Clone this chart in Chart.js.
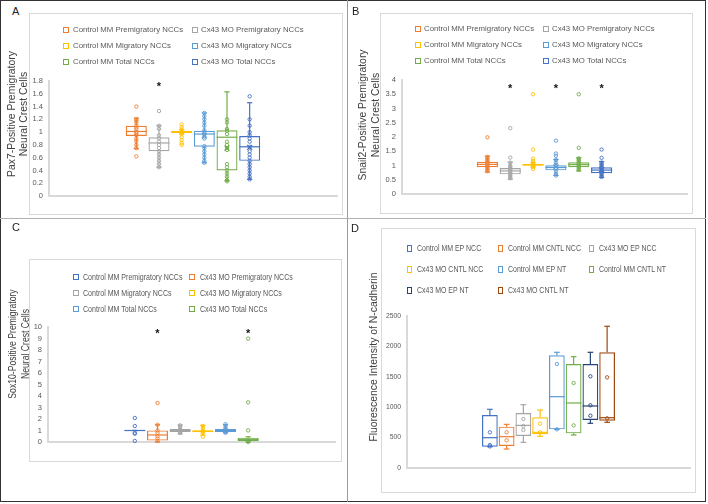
<!DOCTYPE html>
<html>
<head>
<meta charset="utf-8">
<script src="https://cdn.jsdelivr.net/npm/chart.js@4.4.0/dist/chart.umd.min.js"></script>
<style>
  body { margin: 0; background: #fff; }
  #fig { position: relative; width: 708px; height: 504px; overflow: hidden; font-family: 'Liberation Sans', Arial, sans-serif; }
  #fig div, #fig canvas { position: absolute; }
  .frame { left: 0; top: 0; width: 706px; height: 502px; border: 1px solid #333; box-sizing: border-box; }
  .vline { left: 347px; top: 0; width: 1px; height: 502px; background: #9a9a9a; }
  .hline { left: 0; top: 218px; width: 706px; height: 1px; background: #b0b0b0; }
  .letter { font-size: 11px; line-height: 11px; color: #222; }
  .chartbox { border: 1px solid #d9d9d9; box-sizing: border-box; }
  .ytitle { color: #404040; white-space: nowrap; text-align: center; }
  .lg-box { box-sizing: border-box; border: 1px solid; }
  .lg-text { color: #595959; white-space: nowrap; transform-origin: left center; }
</style>
</head>
<body>
<div id="fig">
  <div class="frame"></div>
  <div class="vline"></div>
  <div class="hline"></div>
</div>
<script>
// ---- A: Pax7 ----
const aLabels = ['Control MM Premigratory NCCs', 'Cx43 MO Premigratory NCCs', 'Control MM Migratory NCCs',
                 'Cx43 MO Migratory NCCs', 'Control MM Total NCCs', 'Cx43 MO Total NCCs'];
const aQ1 = [0.94, 0.70, 0.985, 0.77, 0.40, 0.55];
const aMedian = [1.01, 0.83, 1.00, 0.97, 0.92, 0.77];
const aQ3 = [1.10, 0.92, 1.02, 1.02, 1.03, 0.94];
const aLow = [0.74, 0.45, 0.97, 0.52, 0.24, 0.26];
const aHigh = [1.22, 1.10, 1.04, 1.30, 1.63, 1.46];
const aMean = [null, null, null, 0.94, 0.75, 0.76];
const aPoints = [
    [1.40, 1.20, 1.18, 1.15, 1.10, 1.07, 1.04, 1.00, 0.98, 0.95, 0.90, 0.86, 0.80, 0.75, 0.62],
    [1.33, 1.10, 1.05, 0.95, 0.90, 0.85, 0.80, 0.75, 0.70, 0.65, 0.60, 0.55, 0.50, 0.45],
    [1.12, 1.08, 1.04, 1.00, 0.97, 0.92, 0.88, 0.83, 0.80],
    [1.30, 1.25, 1.20, 1.15, 1.10, 1.03, 1.00, 0.97, 0.93, 0.90, 0.78, 0.75, 0.70, 0.65, 0.60, 0.55, 0.52],
    [1.20, 1.15, 1.05, 1.02, 0.97, 0.85, 0.80, 0.75, 0.72, 0.50, 0.45, 0.40, 0.35, 0.30, 0.25, 0.23],
    [1.56, 1.20, 1.10, 1.00, 0.95, 0.90, 0.85, 0.77, 0.70, 0.65, 0.60, 0.55, 0.50, 0.45, 0.40, 0.35, 0.30, 0.26]
];
const aStars = [null, 1.75, null, null, null, null];
const aTicks = [0, 0.2, 0.4, 0.6, 0.8, 1, 1.2, 1.4, 1.6, 1.8];

// ---- B: Snail2 ----
const bLabels = aLabels;
const bQ1 = [0.94, 0.69, 0.99, 0.83, 0.94, 0.73];
const bMedian = [1.04, 0.81, 1.03, 0.93, 1.03, 0.84];
const bQ3 = [1.13, 0.91, 1.05, 1.01, 1.11, 0.94];
const bLow = [0.77, 0.52, 0.95, 0.65, 0.81, 0.58];
const bHigh = [1.33, 1.12, 1.10, 1.21, 1.27, 1.14];
const bMean = [null, null, null, 0.95, null, 0.85];
const bPoints = [
    [1.99, 1.30, 1.25, 1.20, 1.15, 1.10, 1.05, 1.00, 0.95, 0.90, 0.85, 0.80],
    [2.31, 1.28, 1.10, 1.00, 0.95, 0.90, 0.85, 0.80, 0.75, 0.70, 0.65, 0.60, 0.55],
    [3.50, 1.56, 1.24, 1.16, 1.10, 1.05, 1.00, 0.95, 0.88],
    [1.87, 1.42, 1.34, 1.20, 1.10, 1.00, 0.90, 0.80, 0.70, 0.65],
    [3.50, 1.62, 1.25, 1.20, 1.15, 1.10, 1.05, 1.00, 0.95, 0.90, 0.85],
    [1.56, 1.27, 1.10, 1.05, 1.00, 0.95, 0.90, 0.85, 0.80, 0.75, 0.70, 0.65, 0.60]
];
const bStars = [null, 3.8, null, 3.8, null, 3.8];
const bTicks = [0, 0.5, 1, 1.5, 2, 2.5, 3, 3.5, 4];

// ---- C: Sox10 ----
const cLabels = aLabels;
const cQ1 = [1.00, 0.12, 0.87, 0.84, 0.87, 0.09];
const cMedian = [1.00, 0.61, 1.00, 0.95, 1.00, 0.20];
const cQ3 = [1.00, 1.01, 1.13, 1.01, 1.13, 0.38];
const cLow = [1.00, 0.00, 0.70, 0.60, 0.80, 0.00];
const cHigh = [1.00, 1.50, 1.48, 1.45, 1.50, 0.45];
const cMean = [null, null, null, null, null, null];
const cPoints = [
    [2.09, 1.39, 0.80, 0.72, 0.09],
    [3.39, 1.50, 1.00, 0.80, 0.50, 0.30, 0.10],
    [1.45, 1.30, 1.10, 1.00, 0.90, 0.80],
    [1.40, 1.20, 1.00, 0.90, 0.80, 0.46],
    [1.55, 1.40, 1.20, 1.10, 1.00, 0.90, 0.80],
    [8.99, 3.45, 1.01, 0.10, 0.00]
];
const cStars = [null, 9.65, null, null, null, 9.65];
const cTicks = [0, 1, 2, 3, 4, 5, 6, 7, 8, 9, 10];

// ---- D: N-cadherin ----
const dLabels = ['Control MM EP NCC', 'Control MM CNTL NCC', 'Cx43 MO EP NCC', 'Cx43 MO CNTL NCC',
                 'Control MM EP NT', 'Control MM CNTL NT', 'Cx43 MO EP NT', 'Cx43 MO CNTL NT'];
const dQ1 = [351, 362, 526, 554, 636, 570, 789, 778];
const dMedian = [499, 515, 701, 587, 1173, 1069, 1020, 827];
const dQ3 = [871, 680, 904, 833, 1853, 1711, 1711, 1903];
const dLow = [351, 312, 422, 521, 636, 543, 735, 751];
const dHigh = [965, 718, 1041, 954, 1903, 1831, 1903, 2331];
const dMean = [null, null, null, null, null, null, null, null];
const dPoints = [
    [587, 378, 355],
    [587, 455],
    [806, 691, 625],
    [729, 587],
    [1711, 636],
    [1398, 701],
    [1508, 1031, 860],
    [1491, 817]
];
const dStars = [null, null, null, null, null, null, null, null];
const dTicks = [0, 500, 1000, 1500, 2000, 2500];

const colorsAB = ['#ED7D31', '#A5A5A5', '#FFC000', '#5B9BD5', '#70AD47', '#4472C4'];
const colorsC = ['#4472C4', '#ED7D31', '#A5A5A5', '#FFC000', '#5B9BD5', '#70AD47'];
const colorsD = ['#4472C4', '#ED7D31', '#A5A5A5', '#FFC000', '#5B9BD5', '#70AD47', '#264478', '#9E480E'];

const SANS = "'Liberation Sans', Arial, sans-serif";

class BoxFigure {
    constructor() {
        this.fig = document.getElementById('fig');
        this.init();
    }

    init() {
        this.renderPanel({
            letter: { text: 'A', x: 12, y: 6 },
            box: { x: 29, y: 13, w: 314, h: 202 },
            area: { left: 49, top: 81, right: 337, bottom: 196 },
            groupWidth: 136, barPct: 0.925, capRatio: 0.25, tickPad: 6, tickSize: 7.5,
            title: { lines: ['Pax7-Positive Premigratory', 'Neural Crest Cells'], x: 18, y: 114, size: 10.4, lh: 12.3, sx: 1 },
            legend: { sq: [63, 192], tx: [73, 201], rows: [30, 46, 62], size: 7.8, sx: 1, bw: 6, bh: 6 },
            labels: aLabels, colors: colorsAB, ticks: aTicks,
            q1: aQ1, median: aMedian, q3: aQ3, low: aLow, high: aHigh, mean: aMean, points: aPoints, stars: aStars
        });
        this.renderPanel({
            letter: { text: 'B', x: 352, y: 6 },
            box: { x: 380, y: 13, w: 313, h: 201 },
            area: { left: 402, top: 80, right: 687, bottom: 194 },
            groupWidth: 137, barPct: 0.925, capRatio: 0.25, tickPad: 6, tickSize: 7.5,
            title: { lines: ['Snail2-Positive Premigratory', 'Neural Crest Cells'], x: 369, y: 115, size: 10.4, lh: 13, sx: 1 },
            legend: { sq: [415, 543], tx: [424, 552], rows: [29, 45, 61], size: 7.8, sx: 1, bw: 6, bh: 6 },
            labels: bLabels, colors: colorsAB, ticks: bTicks,
            q1: bQ1, median: bMedian, q3: bQ3, low: bLow, high: bHigh, mean: bMean, points: bPoints, stars: bStars
        });
        this.renderPanel({
            letter: { text: 'C', x: 12, y: 222 },
            box: { x: 29, y: 259, w: 313, h: 203 },
            area: { left: 48, top: 327, right: 335, bottom: 442 },
            groupWidth: 136, barPct: 0.925, capRatio: 0.25, tickPad: 6, tickSize: 7.5,
            title: { lines: ['Sox10-Positive Premigratory', 'Neural Crest Cells'], x: 18.5, y: 344, size: 10.4, lh: 12.5, sx: 0.83 },
            legend: { sq: [73, 189], tx: [83, 200], rows: [277, 293, 309], size: 8.6, sx: 0.82, bw: 6, bh: 6 },
            labels: cLabels, colors: colorsC, ticks: cTicks,
            q1: cQ1, median: cMedian, q3: cQ3, low: cLow, high: cHigh, mean: cMean, points: cPoints, stars: cStars
        });
        this.renderPanel({
            letter: { text: 'D', x: 351, y: 223 },
            box: { x: 381, y: 228, w: 315, h: 265 },
            area: { left: 407, top: 316, right: 690, bottom: 468 },
            groupWidth: 134, barPct: 0.94, capRatio: 0.36, tickPad: 6, tickSize: 6.8,
            title: { lines: ['Fluorescence Intensity of N-cadherin'], x: 373.5, y: 357, size: 10.4, lh: 12, sx: 1 },
            legend: { sq: [407, 498, 589], tx: [417, 508, 599], rows: [248, 269, 290], size: 8.5, sx: 0.82, bw: 5, bh: 7 },
            labels: dLabels, colors: colorsD, ticks: dTicks,
            q1: dQ1, median: dMedian, q3: dQ3, low: dLow, high: dHigh, mean: dMean, points: dPoints, stars: dStars
        });
    }

    addDiv(cls, style) {
        const el = document.createElement('div');
        el.className = cls;
        Object.assign(el.style, style);
        this.fig.appendChild(el);
        return el;
    }

    renderLegend(p) {
        const lg = p.legend;
        const ncols = lg.sq.length;
        p.labels.forEach((label, k) => {
            const col = k % ncols, row = Math.floor(k / ncols);
            const cy = lg.rows[row];
            this.addDiv('lg-box', {
                left: lg.sq[col] + 'px', top: (cy - lg.bh / 2) + 'px',
                width: lg.bw + 'px', height: lg.bh + 'px', borderColor: p.colors[k]
            });
            const t = this.addDiv('lg-text', {
                left: lg.tx[col] + 'px', top: (cy - 6) + 'px', height: '12px', lineHeight: '12px',
                fontSize: lg.size + 'px', transform: `scaleX(${lg.sx})`
            });
            t.textContent = label;
        });
    }

    renderTitle(p) {
        const t = p.title;
        const el = this.addDiv('ytitle', {
            left: t.x + 'px', top: t.y + 'px', fontSize: t.size + 'px', lineHeight: t.lh + 'px',
            transform: `translate(-50%, -50%) rotate(-90deg) scaleX(${t.sx})`
        });
        t.lines.forEach((line, i) => {
            if (i) el.appendChild(document.createElement('br'));
            el.appendChild(document.createTextNode(line));
        });
    }

    renderPanel(p) {
        const l = this.addDiv('letter', { left: p.letter.x + 'px', top: p.letter.y + 'px' });
        l.textContent = p.letter.text;
        this.addDiv('chartbox', { left: p.box.x + 'px', top: p.box.y + 'px', width: p.box.w + 'px', height: p.box.h + 'px' });

        const canvas = document.createElement('canvas');
        canvas.width = p.box.w;
        canvas.height = p.box.h;
        Object.assign(canvas.style, { left: p.box.x + 'px', top: p.box.y + 'px', width: p.box.w + 'px', height: p.box.h + 'px' });
        this.fig.appendChild(canvas);

        this.renderTitle(p);
        this.renderLegend(p);

        const axisLeft = p.area.left - p.box.x;
        const padding = {
            left: 0,
            top: p.area.top - p.box.y,
            right: p.box.x + p.box.w - p.area.right,
            bottom: p.box.y + p.box.h - p.area.bottom
        };
        const groupPct = p.groupWidth / (p.area.right - p.area.left);
        const ticks = p.ticks;

        // whiskers, medians, means, data points and significance stars
        const boxWhisker = {
            id: 'boxWhisker',
            afterDatasetsDraw(chart) {
                const ctx = chart.ctx;
                const y = chart.scales.y;
                const line = (x1, y1, x2, y2) => {
                    ctx.beginPath();
                    ctx.moveTo(x1, y1);
                    ctx.lineTo(x2, y2);
                    ctx.stroke();
                };
                p.labels.forEach((label, i) => {
                    const bar = chart.getDatasetMeta(i).data[0];
                    const cx = bar.x, w = bar.width, cap = w * p.capRatio / 2;
                    ctx.save();
                    ctx.strokeStyle = p.colors[i];
                    ctx.lineWidth = 1.2;
                    const yq1 = y.getPixelForValue(p.q1[i]), yq3 = y.getPixelForValue(p.q3[i]);
                    const ylo = y.getPixelForValue(p.low[i]), yhi = y.getPixelForValue(p.high[i]);
                    const ymed = y.getPixelForValue(p.median[i]);
                    line(cx, yq3, cx, yhi);
                    line(cx, yq1, cx, ylo);
                    line(cx - cap, yhi, cx + cap, yhi);
                    line(cx - cap, ylo, cx + cap, ylo);
                    line(cx - w / 2, ymed, cx + w / 2, ymed);
                    if (p.mean[i] != null) {
                        const ym = y.getPixelForValue(p.mean[i]);
                        line(cx - 2.5, ym - 2.5, cx + 2.5, ym + 2.5);
                        line(cx - 2.5, ym + 2.5, cx + 2.5, ym - 2.5);
                    }
                    ctx.lineWidth = 0.9;
                    p.points[i].forEach(v => {
                        ctx.beginPath();
                        ctx.arc(cx, y.getPixelForValue(v), 1.7, 0, Math.PI * 2);
                        ctx.stroke();
                    });
                    if (p.stars[i] != null) {
                        ctx.fillStyle = '#111';
                        ctx.font = 'bold 11px ' + SANS;
                        ctx.textAlign = 'center';
                        ctx.textBaseline = 'alphabetic';
                        ctx.fillText('*', cx, y.getPixelForValue(p.stars[i]) + 6.3);
                    }
                    ctx.restore();
                });
            }
        };

        new Chart(canvas.getContext('2d'), {
            type: 'bar',
            data: {
                labels: [''],
                datasets: p.labels.map((label, i) => ({
                    label: label,
                    data: [[p.q1[i], p.q3[i]]],
                    borderColor: p.colors[i],
                    backgroundColor: 'rgba(255,255,255,0)',
                    borderWidth: 1.2,
                    borderSkipped: false,
                    categoryPercentage: groupPct,
                    barPercentage: p.barPct
                }))
            },
            options: {
                responsive: false,
                animation: false,
                layout: { padding: padding },
                plugins: { legend: { display: false }, tooltip: { enabled: false } },
                scales: {
                    x: {
                        grid: { display: false, drawTicks: false },
                        ticks: { display: false },
                        border: { display: true, color: '#d9d9d9', width: 2 },
                        afterFit: (scale) => { scale.height = 0; }
                    },
                    y: {
                        min: ticks[0],
                        max: ticks[ticks.length - 1],
                        grid: { display: false, drawTicks: false },
                        border: { display: true, color: '#d9d9d9', width: 2 },
                        ticks: {
                            stepSize: ticks[1] - ticks[0],
                            autoSkip: false,
                            padding: p.tickPad,
                            color: '#595959',
                            font: { family: SANS, size: p.tickSize },
                            callback: (v) => String(+v.toFixed(2))
                        },
                        afterFit: (scale) => { scale.width = axisLeft; }
                    }
                }
            },
            plugins: [boxWhisker]
        });
    }
}

document.addEventListener('DOMContentLoaded', () => new BoxFigure());
</script>
</body>
</html>
